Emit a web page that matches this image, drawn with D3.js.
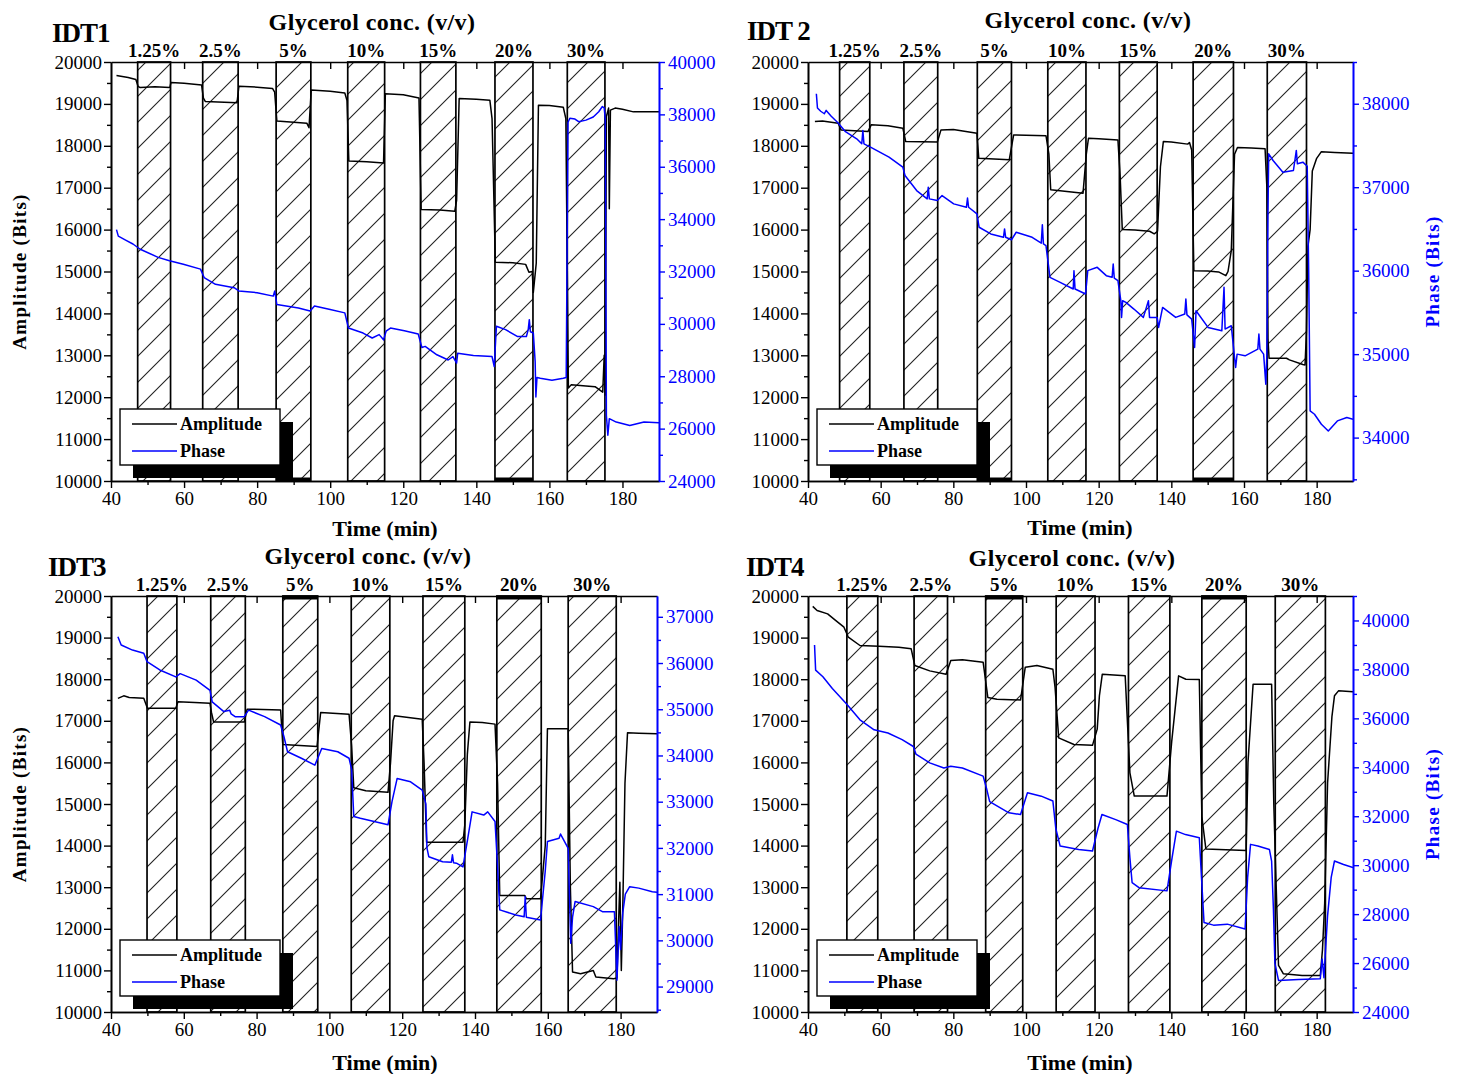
<!DOCTYPE html>
<html>
<head>
<meta charset="utf-8">
<script src="https://cdn.jsdelivr.net/npm/d3@7"></script>
<style>
  html, body { margin: 0; padding: 0; background: #fff; }
  svg { display: block; }
  text { font-family: "Liberation Serif", "Times New Roman", serif; }
</style>
</head>
<body>
<script>
// ---------------- DATA ----------------
const concLabels = ["1.25%", "2.5%", "5%", "10%", "15%", "20%", "30%"];
const timeTicks = [40, 60, 80, 100, 120, 140, 160, 180];
const ampTicks = [10000, 11000, 12000, 13000, 14000, 15000, 16000, 17000, 18000, 19000, 20000];

const idt1PhaseDomain = [24000, 40000];
const idt1PhaseTicks = [24000, 26000, 28000, 30000, 32000, 34000, 36000, 38000, 40000];
const idt2PhaseDomain = [33480, 38500];
const idt2PhaseTicks = [34000, 35000, 36000, 37000, 38000];
const idt3PhaseDomain = [28450, 37450];
const idt3PhaseTicks = [29000, 30000, 31000, 32000, 33000, 34000, 35000, 36000, 37000];
const idt4PhaseDomain = [24000, 41000];
const idt4PhaseTicks = [24000, 26000, 28000, 30000, 32000, 34000, 36000, 38000, 40000];

// glycerol exposure windows (min)
const idt1Bands = [[47.3, 56.3], [65.1, 74.8], [85.2, 94.7], [104.8, 114.9], [124.7, 134.4], [145.1, 155.5], [164.9, 175.2]];
const idt2Bands = [[48.7, 57.0], [66.4, 75.7], [86.6, 96.0], [106.0, 116.5], [125.7, 136.1], [146.0, 157.1], [166.4, 177.2]];
const idt3Bands = [[49.9, 58.1], [67.4, 76.9], [87.2, 96.8], [106.0, 116.6], [125.7, 137.2], [146.0, 158.2], [165.6, 178.8]];
const idt4Bands = [[50.7, 59.2], [69.2, 78.4], [88.9, 99.1], [108.3, 119.0], [128.2, 139.6], [148.4, 160.6], [168.6, 182.4]];

// [time (min), amplitude (Bits)]
const idt1Amplitude = [[41.5,19680],[44.7,19630],[46.8,19580],[47.4,19420],[48,19390],[52,19410],[56.1,19390],
 [56.4,19510],[60,19490],[64.8,19450],[65.3,19140],[65.8,19060],[74.5,19030],
 [75.0,19420],[80,19400],[84.2,19370],[84.8,19280],[85.4,18590],[90,18560],[93.6,18540],[94.2,18430],[94.8,19330],
 [100,19300],[104,19260],[104.6,19080],[105.1,17640],[110,17620],[114.6,17590],
 [115.1,19240],[120,19220],[124.3,19140],[124.9,16480],[130,16470],[134.1,16440],[134.6,16700],[135.3,19130],
 [140,19110],[143.7,19090],[144.3,18650],[145.2,15220],[150,15210],[153.5,15170],[154.4,14980],[155.3,15000],
 [155.6,14500],[156.4,15200],[157,18970],[160,18960],[163.8,18920],[164.5,18650],[165.2,12220],[166,12300],
 [170,12270],[172.5,12250],[174.6,12120],[175,13000],[175.3,12050],[175.6,18700],[176.2,18900],[176.4,16500],
 [176.7,18850],[178,18900],[180,18870],[183,18810],[190,18810]];
// [time (min), phase (Bits)]
const idt1Phase = [[41.5,33600],[42,33350],[44,33200],[46,33050],[48,32850],[52.9,32540],[56,32410],[59.8,32280],
 [64.5,32090],[65.5,31770],[68.6,31510],[73.7,31380],[75,31260],[80,31190],[84.4,31060],[84.8,31250],[85.1,31000],
 [85.4,30740],[91.3,30610],[94.5,30490],[95.7,30680],[100,30550],[104,30420],[105,29840],[109,29650],[111.5,29460],
 [113.4,29590],[114.6,29390],[115.3,29720],[116.5,29840],[120.3,29740],[124.1,29610],[125.1,29100],[126,29140],
 [129.2,28820],[132.3,28620],[133.6,28750],[134.6,28500],[134.9,28880],[139.2,28790],[144.3,28750],[144.9,28370],
 [145.5,29910],[148,29780],[151.2,29520],[153.7,29520],[154.2,29780],[154.5,30160],[154.8,29700],[155.6,29650],
 [156.1,28560],[156.3,27210],[156.6,27950],[157.5,27920],[160.7,27850],[163.8,27920],[164.6,27950],[165.1,37700],
 [165.6,37850],[167,37820],[168,37720],[170,37780],[172,37900],[173.5,38100],[174.5,38300],[175.0,38250],
 [175.3,37800],[175.6,26500],[176,25750],[176.4,26380],[178.3,26250],[182,26120],[185.9,26250],[190,26220]];

const idt2Amplitude = [[41.9,18580],[44,18590],[48.3,18540],[49.1,18380],[56.5,18340],[57.4,18500],[62,18480],
 [66.1,18420],[66.9,18100],[75.6,18090],[76.6,18380],[80,18390],[86.5,18300],[87.0,17700],[95.4,17670],[96.6,18260],
 [100,18250],[105.5,18240],[106.3,17800],[106.8,16950],[110,16920],[115.7,16870],[116.6,17800],[117.2,18180],
 [120,18170],[125.3,18140],[125.9,17300],[126.5,16000],[130,15990],[134,15960],[135.3,15900],[136.2,15960],
 [137,17500],[137.8,18100],[140,18090],[144.5,18040],[145,18080],[145.6,17900],[146.2,15020],[150,15010],
 [153,14990],[155,14900],[155.6,15000],[156.5,15500],[157.4,17800],[158.2,17960],[162,17950],[165.8,17930],
 [166.3,17000],[166.6,13400],[166.9,12930],[171.7,12930],[172.5,12890],[176.2,12780],[176.8,12770],[177.2,13600],
 [177.6,15600],[178.2,16000],[178.8,17400],[180,17700],[181.3,17860],[185,17840],[190,17820]];
const idt2Phase = [[42.3,38120],[42.6,37950],[43.5,37910],[44.5,37880],[45,37920],[46.4,37850],[48.3,37770],
 [50.2,37670],[53.4,37580],[54.8,37520],[55.1,37680],[55.4,37520],[57.2,37480],[62.3,37360],[66.1,37240],
 [66.7,37140],[69.9,36960],[72.8,36860],[73.1,37000],[73.4,36860],[75.6,36840],[76.9,36900],[80.1,36800],
 [83.6,36760],[83.9,36870],[84.2,36760],[86.5,36680],[87.1,36520],[90.3,36440],[93.8,36400],[94.1,36500],
 [94.4,36400],[96,36370],[97.3,36460],[101.7,36400],[104.2,36330],[104.5,36550],[104.8,36320],[105.5,36300],
 [106.6,35920],[109.4,35860],[113.0,35780],[113.2,36000],[113.5,35780],[116.4,35720],[117,36000],[119.6,36040],
 [122.1,35940],[123.7,35920],[124,36080],[124.3,35910],[125.3,35880],[126.1,35640],[126.3,35440],[126.6,35640],
 [127.5,35620],[129.7,35540],[132.3,35440],[133.7,35640],[134,35440],[136.1,35440],[136.5,35320],[137.6,35560],
 [141.2,35440],[143.7,35480],[144,35660],[144.3,35470],[145.6,35420],[146.4,35080],[146.8,35520],[150.1,35320],
 [153.9,35280],[154.5,35800],[154.8,35300],[156.5,35340],[157.3,35000],[157.7,34840],[158.1,35000],[160.3,34980],
 [163.8,35060],[164.1,35240],[164.4,35060],[165.4,35000],[166.0,34640],[166.3,35000],[166.6,36700],[166.8,37400],
 [168,37320],[170.7,37180],[173.6,37200],[174.4,37440],[174.7,37280],[176.2,37300],[177.4,37250],[177.8,36000],
 [178.2,34320],[179.4,34280],[181.3,34160],[183.2,34080],[185.7,34200],[188.3,34240],[190,34220]];

const idt3Amplitude = [[41.9,17540],[43.5,17600],[45,17560],[49,17540],[50.0,17300],[57.8,17300],[58.4,17460],
 [63,17440],[67.2,17420],[67.6,17200],[68.2,16970],[76.6,16970],[77.4,17280],[86.6,17260],[87.2,16430],[96.6,16380],
 [97.6,17200],[105.4,17160],[106.1,16400],[106.7,15390],[110,15320],[116.1,15280],[116.8,16000],[117.5,17000],
 [117.9,17120],[125.5,17040],[126.0,16000],[126.7,14080],[131,14080],[136.7,14080],[137.2,14500],[137.9,16200],
 [138.6,16970],[142,16960],[145.5,16920],[146.2,15500],[146.8,12800],[153.7,12800],[154.1,12720],[158,12720],
 [159.3,14000],[159.9,16810],[165.6,16810],[166.2,13000],[166.8,10960],[169,10920],[172.5,11000],[173.2,10840],
 [178.1,10800],[179.0,10820],[179.3,11760],[179.8,13120],[180.2,11000],[180.6,12500],[181.2,15500],[181.9,16710],
 [185,16700],[190,16690]];
const idt3Phase = [[41.9,36570],[42.8,36390],[45.9,36280],[49,36210],[49.9,36030],[53.4,35850],[57.8,35700],
 [59,35770],[63.4,35630],[67.2,35410],[67.8,35160],[71,34950],[72.6,34980],[73,34900],[74.1,34840],[76.6,34840],
 [77.8,34980],[82.2,34840],[86.6,34660],[87.5,34410],[88.5,34080],[92.3,33940],[96,33790],[97.9,34150],
 [102.3,34080],[105.4,33940],[106.1,33700],[106.7,32680],[108.5,32640],[112.3,32570],[116.1,32500],[117.2,33000],
 [118.6,33500],[122.3,33430],[125.5,33250],[126.5,32950],[126.8,32000],[127.3,31810],[131.1,31700],[133.5,31690],
 [133.8,31850],[134.1,31680],[134.9,31670],[136.7,31590],[138,32200],[139.2,32780],[142.4,32710],[143.5,32780],
 [145.5,32570],[146.2,31600],[146.8,30660],[151.2,30550],[153.5,30510],[153.8,30950],[154.1,30500],[158,30440],
 [159.3,31500],[159.9,32140],[163.1,32210],[163.5,32300],[165.6,31990],[166.3,29940],[166.8,30500],[167.5,30840],
 [172.5,30730],[175,30620],[178.3,30620],[179,29140],[179.6,30300],[180,29800],[180.6,30600],[181.3,31000],
 [182.5,31160],[185,31130],[188.7,31050],[190,31040]];

const idt4Amplitude = [[41.3,19750],[42.5,19650],[45.4,19570],[47.5,19420],[49.9,19250],[51.1,19010],[54.3,18810],
 [59.5,18790],[65,18770],[68.4,18730],[69.4,18330],[73.5,18200],[78,18120],[79.3,18450],[82.5,18470],[88.2,18410],
 [89.5,17560],[92,17520],[98.5,17500],[99.8,18290],[103,18330],[107.4,18240],[108.0,17800],[109,16590],[113.2,16430],
 [118.3,16410],[119.6,16800],[120.2,17600],[121,18120],[127.3,18080],[128.6,15750],[129.8,15190],[138.8,15190],
 [140.1,16500],[142,18080],[144,18000],[147.7,17990],[148.4,14700],[149.5,13920],[155,13900],[160.6,13880],
 [161.1,16000],[162.5,17880],[167.6,17880],[168.2,15000],[169.5,11120],[170.8,10920],[176,10880],[181,10880],
 [181.6,11500],[182.2,12600],[183,15500],[184.2,17100],[184.9,17600],[186,17720],[190,17700]];
const idt4Phase = [[41.8,39000],[42.1,37970],[44.1,37700],[46.7,37220],[50.5,36610],[54.3,35940],[58.2,35530],
 [62,35400],[65.9,35130],[69,34850],[69.7,34540],[73.5,34180],[77.4,33970],[79.3,34040],[82.5,33970],[88.2,33640],
 [89.2,33100],[90,32600],[95.3,32140],[98.5,32070],[100.4,32960],[104.2,32820],[107.4,32620],[108.2,31500],
 [109.4,30780],[114.5,30640],[118.3,30580],[119.8,31500],[120.9,32070],[124.7,31860],[127.9,31660],[128.6,30300],
 [129.2,29290],[131.1,29080],[138.8,28950],[140.2,30300],[141.4,31390],[143.9,31250],[147.7,31120],[148.3,29500],
 [149,27660],[151.6,27550],[155.4,27590],[160.3,27390],[161.0,29500],[161.8,30850],[163.8,30780],[167,30640],
 [167.6,30170],[168.1,28200],[168.5,26000],[169.5,25290],[175,25330],[181,25360],[181.5,26170],[182,25400],
 [183,27930],[184,29500],[184.9,30170],[187.4,30030],[190,29900]];

// ---------------- DRAWING ----------------
const BLUE = "#0000ff";
const svg = d3.select("body").append("svg").attr("width", 1457).attr("height", 1074);

const defs = svg.append("defs");
const pat = defs.append("pattern").attr("id", "hatch").attr("patternUnits", "userSpaceOnUse")
  .attr("width", 26).attr("height", 26);
pat.append("rect").attr("width", 26).attr("height", 26).attr("fill", "#fff");
pat.append("path").attr("d", "M0,26 L26,0 M-3,3 L3,-3 M23,29 L29,23")
  .attr("stroke", "#222").attr("stroke-width", 1.1);

const panels = [
  { id: "p1", label: "IDT1", left: 111, right: 659, top: 62, bottom: 481,
    amp: idt1Amplitude, phase: idt1Phase, bands: idt1Bands, pDom: idt1PhaseDomain, pTicks: idt1PhaseTicks, pMinorStep: 1000,
    thick: "bottom", ampTitle: true, phaseTitle: false, titleX: 372, titleY: 30, idtX: 52, idtY: 42, timeX: 385, timeY: 536 },
  { id: "p2", label: "IDT 2", left: 808, right: 1353, top: 62, bottom: 481,
    amp: idt2Amplitude, phase: idt2Phase, bands: idt2Bands, pDom: idt2PhaseDomain, pTicks: idt2PhaseTicks, pMinorStep: 500,
    thick: "bottom", ampTitle: false, phaseTitle: true, titleX: 1088, titleY: 28, idtX: 747, idtY: 40, timeX: 1080, timeY: 535 },
  { id: "p3", label: "IDT3", left: 111, right: 657, top: 596, bottom: 1012,
    amp: idt3Amplitude, phase: idt3Phase, bands: idt3Bands, pDom: idt3PhaseDomain, pTicks: idt3PhaseTicks, pMinorStep: 500,
    thick: "top", ampTitle: true, phaseTitle: false, titleX: 368, titleY: 564, idtX: 48, idtY: 576, timeX: 385, timeY: 1070 },
  { id: "p4", label: "IDT4", left: 808, right: 1353, top: 596, bottom: 1012,
    amp: idt4Amplitude, phase: idt4Phase, bands: idt4Bands, pDom: idt4PhaseDomain, pTicks: idt4PhaseTicks, pMinorStep: 1000,
    thick: "top", ampTitle: false, phaseTitle: true, titleX: 1072, titleY: 566, idtX: 746, idtY: 576, timeX: 1080, timeY: 1070 }
];

function styleAxis(g, color, fontSize) {
  g.select(".domain").attr("stroke", color).attr("stroke-width", 1.6);
  g.selectAll(".tick line").attr("stroke", color).attr("stroke-width", 1.4);
  g.selectAll(".tick text").attr("fill", color).attr("font-size", fontSize)
    .attr("font-family", "'Liberation Serif', 'Times New Roman', serif");
}

panels.forEach(p => {
  const g = svg.append("g");
  const x = d3.scaleLinear().domain([40, 190]).range([p.left, p.right]);
  const yA = d3.scaleLinear().domain([10000, 20000]).range([p.bottom, p.top]);
  const yP = d3.scaleLinear().domain(p.pDom).range([p.bottom, p.top]);

  // hatched exposure bands
  g.append("g").selectAll("rect").data(p.bands).join("rect")
    .attr("x", d => x(d[0])).attr("y", p.top)
    .attr("width", d => x(d[1]) - x(d[0])).attr("height", p.bottom - p.top)
    .attr("fill", "url(#hatch)").attr("stroke", "#000").attr("stroke-width", 1.7);

  // heavier band edge for 5% and 20% windows
  g.append("g").selectAll("line").data([p.bands[2], p.bands[5]]).join("line")
    .attr("x1", d => x(d[0])).attr("x2", d => x(d[1]))
    .attr("y1", p.thick === "top" ? p.top + 1.5 : p.bottom - 1.5)
    .attr("y2", p.thick === "top" ? p.top + 1.5 : p.bottom - 1.5)
    .attr("stroke", "#000").attr("stroke-width", 4);

  // clip
  defs.append("clipPath").attr("id", "clip-" + p.id).append("rect")
    .attr("x", p.left).attr("y", p.top).attr("width", p.right - p.left).attr("height", p.bottom - p.top);

  const lineA = d3.line().x(d => x(d[0])).y(d => yA(d[1]));
  const lineP = d3.line().x(d => x(d[0])).y(d => yP(d[1]));
  const dg = g.append("g").attr("clip-path", "url(#clip-" + p.id + ")");
  dg.append("path").datum(p.amp).attr("d", lineA).attr("fill", "none")
    .attr("stroke", "#000").attr("stroke-width", 1.5).attr("stroke-linejoin", "round");
  dg.append("path").datum(p.phase).attr("d", lineP).attr("fill", "none")
    .attr("stroke", BLUE).attr("stroke-width", 1.5).attr("stroke-linejoin", "round");

  // axes
  const minorTime = d3.range(50, 190, 20);
  const minorAmp = d3.range(10500, 20000, 1000);
  const minorPhase = d3.range(Math.ceil(p.pDom[0] / p.pMinorStep) * p.pMinorStep, p.pDom[1] + 1, p.pMinorStep)
    .filter(v => !p.pTicks.includes(v));

  // bottom
  const gb = g.append("g").attr("transform", `translate(0,${p.bottom})`)
    .call(d3.axisBottom(x).tickValues(timeTicks).tickSize(7).tickSizeOuter(0).tickPadding(4).tickFormat(d3.format("d")));
  styleAxis(gb, "#000", 19);
  const gbm = g.append("g").attr("transform", `translate(0,${p.bottom})`)
    .call(d3.axisBottom(x).tickValues(minorTime).tickSize(4).tickSizeOuter(0).tickFormat(""));
  styleAxis(gbm, "#000", 19);

  // top (inward ticks)
  const gt = g.append("g").attr("transform", `translate(0,${p.top})`)
    .call(d3.axisBottom(x).tickValues(timeTicks.slice(1)).tickSize(7).tickSizeOuter(0).tickFormat(""));
  styleAxis(gt, "#000", 19);

  // left
  const gl = g.append("g").attr("transform", `translate(${p.left},0)`)
    .call(d3.axisLeft(yA).tickValues(ampTicks).tickSize(7).tickSizeOuter(0).tickPadding(2).tickFormat(d3.format("d")));
  styleAxis(gl, "#000", 19);
  const glm = g.append("g").attr("transform", `translate(${p.left},0)`)
    .call(d3.axisLeft(yA).tickValues(minorAmp).tickSize(4).tickSizeOuter(0).tickFormat(""));
  styleAxis(glm, "#000", 19);

  // right (blue)
  const gr = g.append("g").attr("transform", `translate(${p.right},0)`)
    .call(d3.axisRight(yP).tickValues(p.pTicks).tickSize(6).tickSizeOuter(0).tickPadding(3).tickFormat(d3.format("d")));
  styleAxis(gr, BLUE, 19);
  const grm = g.append("g").attr("transform", `translate(${p.right},0)`)
    .call(d3.axisRight(yP).tickValues(minorPhase).tickSize(4).tickSizeOuter(0).tickFormat(""));
  styleAxis(grm, BLUE, 19);

  // concentration labels
  g.append("g").selectAll("text").data(p.bands).join("text")
    .attr("x", d => x((d[0] + d[1]) / 2)).attr("y", p.top - 5)
    .attr("text-anchor", "middle").attr("font-size", 19).attr("font-weight", "bold")
    .text((d, i) => concLabels[i]);

  // titles
  g.append("text").attr("x", p.titleX).attr("y", p.titleY).attr("text-anchor", "middle")
    .attr("font-size", 24).attr("font-weight", "bold").attr("letter-spacing", 0.4)
    .text("Glycerol conc. (v/v)");
  g.append("text").attr("x", p.idtX).attr("y", p.idtY)
    .attr("font-size", 27).attr("font-weight", "bold").attr("letter-spacing", -1)
    .text(p.label);
  g.append("text").attr("x", p.timeX).attr("y", p.timeY).attr("text-anchor", "middle")
    .attr("font-size", 22).attr("font-weight", "bold").text("Time (min)");
  const midY = (p.top + p.bottom) / 2;
  if (p.ampTitle) {
    g.append("text").attr("transform", `translate(26,${midY}) rotate(-90)`).attr("text-anchor", "middle")
      .attr("font-size", 19).attr("font-weight", "bold").attr("letter-spacing", 1.3)
      .text("Amplitude (Bits)");
  }
  if (p.phaseTitle) {
    g.append("text").attr("transform", `translate(1439,${midY}) rotate(-90)`).attr("text-anchor", "middle")
      .attr("font-size", 19).attr("font-weight", "bold").attr("letter-spacing", 1.3).attr("fill", BLUE)
      .text("Phase (Bits)");
  }

  // legend
  const lx = p.left + 9, ly = p.bottom - 72, lw = 160, lh = 56;
  const lg = g.append("g");
  lg.append("rect").attr("x", lx + 13).attr("y", ly + 13).attr("width", lw).attr("height", lh).attr("fill", "#000");
  lg.append("rect").attr("x", lx).attr("y", ly).attr("width", lw).attr("height", lh)
    .attr("fill", "#fff").attr("stroke", "#000").attr("stroke-width", 1.4);
  const items = [{ name: "Amplitude", color: "#000", dy: 15 }, { name: "Phase", color: BLUE, dy: 42 }];
  items.forEach(it => {
    lg.append("line").attr("x1", lx + 12).attr("x2", lx + 57).attr("y1", ly + it.dy).attr("y2", ly + it.dy)
      .attr("stroke", it.color).attr("stroke-width", 1.5);
    lg.append("text").attr("x", lx + 60).attr("y", ly + it.dy + 6).attr("font-size", 18).attr("font-weight", "bold")
      .text(it.name);
  });
});
</script>
</body>
</html>
